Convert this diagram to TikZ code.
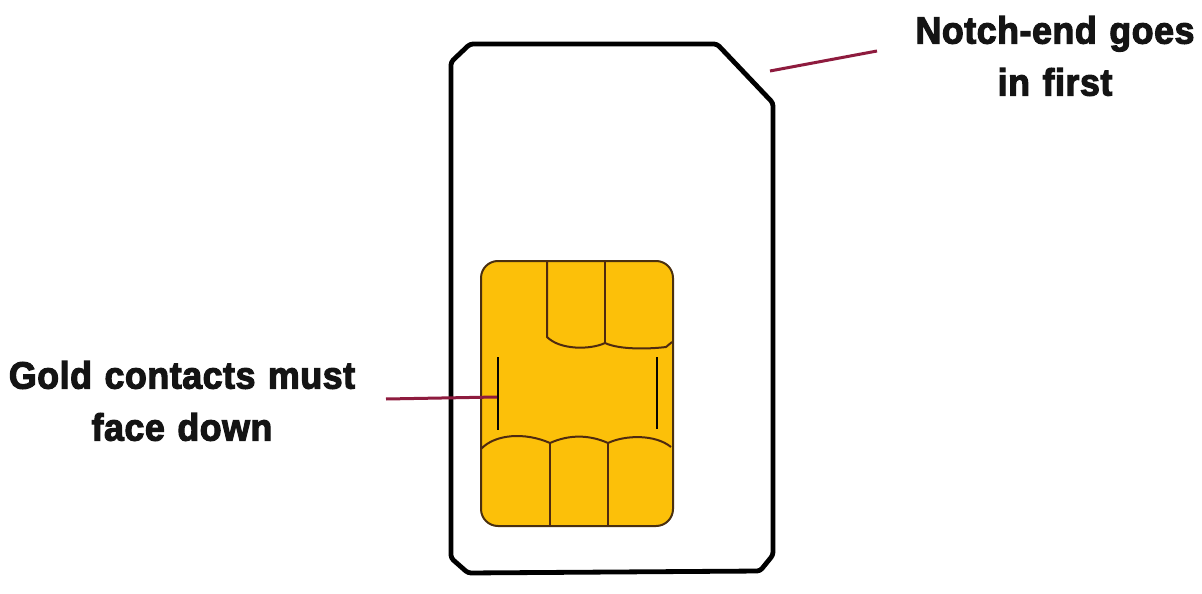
\documentclass[tikz,border=0pt]{standalone}
\usepackage{fontspec}
\setmainfont{Liberation Sans}
\newfontfamily\labelfont[FakeStretch=0.94,FakeBold=3,LetterSpace=1.5,WordSpace=1.2]{Liberation Sans Bold}
\tikzset{
  x=1pt,y=-1pt,
  cardline/.style={draw=black,line width=4.8pt,line join=round},
  chipfill/.style={fill=chipgold,draw=chipedge,line width=2pt},
  chipline/.style={draw=chipline,line width=2pt},
  barline/.style={draw=black!90!chipedge,line width=2.4pt},
  leader/.style={draw=leadercol,line width=3pt},
  caption/.style={align=center,inner sep=0pt,text=black!92,font=\labelfont\fontsize{38}{52}\selectfont},
}
\definecolor{chipgold}{HTML}{FCC009}
\definecolor{chipedge}{HTML}{4A3010}
\definecolor{chipline}{HTML}{4E2A10}
\definecolor{leadercol}{HTML}{8E1B3E}
\begin{document}
\begin{tikzpicture}
\useasboundingbox (0,0) rectangle (1202,594);
\fill[white] (0,0) rectangle (1202,594);
% card
\draw[cardline,rounded corners=3pt] (451,62) -- (470,44) -- (717,44) -- (773,103) -- (773,555) -- (760,571) -- (468,573) -- (451,558) -- cycle;
% chip
\draw[chipfill,rounded corners=17pt] (481,261) rectangle (673,526);
\draw[chipline] (547,261) -- (547,337) .. controls (560,350) and (590,350) .. (605,343) .. controls (620,350) and (650,349) .. (666,347) -- (672,342);
\draw[chipline] (605,261) -- (605,343);
\draw[chipline] (481,449) .. controls (495,434) and (525,432) .. (550,443) .. controls (570,434) and (590,435) .. (608,443) .. controls (625,435) and (655,434) .. (671,447);
\draw[chipline] (550,443) -- (550,526);
\draw[chipline] (608,443) -- (608,526);
\draw[barline] (498,357) -- (498,430);
\draw[barline] (657,357) -- (657,429);
% labels
\node[caption] (notch) at (1055,56) {Notch-end goes\\in first};
\node[caption] (gold) at (182,401) {Gold contacts must\\face down};
% leaders
\coordinate (notchend) at (877,51);
\coordinate (notchtip) at (770,71);
\coordinate (goldstart) at (386,399);
\coordinate (goldtip) at (497,397);
\draw[leader] (notchend) -- (notchtip);
\draw[leader] (goldstart) -- (goldtip);
\end{tikzpicture}
\end{document}
